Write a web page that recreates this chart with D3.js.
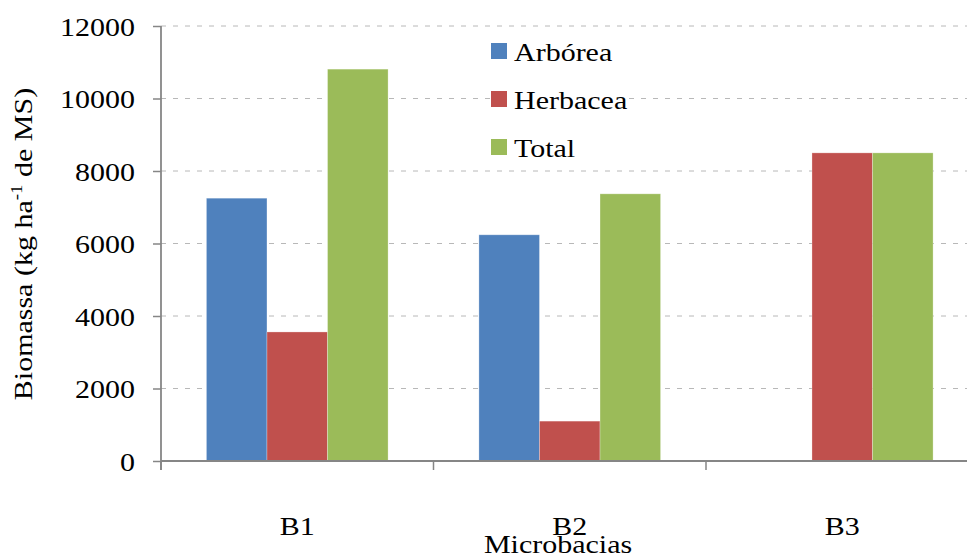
<!DOCTYPE html>
<html>
<head>
<meta charset="utf-8">
<script src="https://cdn.jsdelivr.net/npm/d3@7"></script>
<style>
  html, body { margin: 0; padding: 0; background: #fff; }
  svg { display: block; }
</style>
</head>
<body>
<svg id="chart" width="967" height="557"></svg>
<script>
// Biomass per micro-watershed
const categories = ["B1", "B2", "B3"];
const seriesNames = ["Arbórea", "Herbacea", "Total"];
const arborea  = [7250, 6240, 0];
const herbacea = [3560, 1100, 8500];
const total    = [10810, 7370, 8500];
const yTicks   = [0, 2000, 4000, 6000, 8000, 10000, 12000];
const colors   = ["#4F81BD", "#C0504D", "#9BBB59"];

const seriesValues = [arborea, herbacea, total];
const rows = categories.map((c, i) => ({
  cat: c,
  vals: seriesNames.map((s, j) => ({ key: s, value: seriesValues[j][i] }))
}));

const svg = d3.select("#chart");
const plotLeft = 161, plotRight = 978.5, plotTop = 26, plotBottom = 461;
const FONT = "'Liberation Serif', 'Times New Roman', Tinos, Times, serif";
const FS = 30, SQ = 0.87; // serif text, slightly condensed vertically

const x = d3.scaleBand().domain(categories).range([plotLeft, plotRight]).padding(0);
const xi = d3.scaleBand().domain(seriesNames).range([0, x.bandwidth()])
  .paddingInner(0).paddingOuter(0.75);
const y = d3.scaleLinear().domain([0, 12000]).range([plotBottom, plotTop]);
const color = d3.scaleOrdinal().domain(seriesNames).range(colors);

function label(g, tx, ty, str, anchor, rot) {
  const t = g.append("text")
    .attr("transform", `translate(${tx},${ty})` + (rot ? ` rotate(${rot})` : "") + ` scale(1,${SQ})`)
    .attr("text-anchor", anchor)
    .attr("font-family", FONT)
    .attr("font-size", FS)
    .attr("fill", "#000");
  if (str !== null) t.text(str);
  return t;
}

// dashed gridlines
svg.append("g").selectAll("line")
  .data(yTicks.filter(d => d > 0))
  .join("line")
  .attr("x1", plotLeft).attr("x2", 967)
  .attr("y1", d => y(d)).attr("y2", d => y(d))
  .attr("stroke", "#b8b8b8").attr("stroke-width", 1)
  .attr("stroke-dasharray", "5,7");

// bars
svg.append("g").selectAll("g")
  .data(rows)
  .join("g")
  .attr("transform", d => `translate(${x(d.cat)},0)`)
  .selectAll("rect")
  .data(d => d.vals.filter(v => v.value > 0))
  .join("rect")
  .attr("x", d => xi(d.key))
  .attr("width", xi.bandwidth())
  .attr("y", d => y(d.value))
  .attr("height", d => y(0) - y(d.value))
  .attr("fill", d => color(d.key))
  .attr("stroke", "rgba(255,255,255,0.35)")
  .attr("stroke-width", 0.8);

// y axis
const yAxis = d3.axisLeft(y).tickValues(yTicks).tickSize(8).tickFormat("");
const gy = svg.append("g").attr("transform", `translate(${plotLeft},0)`).call(yAxis);
gy.select(".domain").remove();
gy.selectAll(".tick line").attr("stroke", "#868686").attr("stroke-width", 1.5);
svg.append("line")
  .attr("x1", plotLeft).attr("x2", plotLeft).attr("y1", plotTop).attr("y2", plotBottom + 9)
  .attr("stroke", "#868686").attr("stroke-width", 1.8);

const gyl = svg.append("g");
yTicks.forEach(v => label(gyl, 135, y(v) + 9.5, String(v), "end"));

// x axis
svg.append("line")
  .attr("x1", plotLeft).attr("x2", plotRight).attr("y1", plotBottom).attr("y2", plotBottom)
  .attr("stroke", "#868686").attr("stroke-width", 2);
const xAxis = d3.axisBottom(x).tickSize(9).tickFormat("");
const gx = svg.append("g").attr("transform", `translate(0,${plotBottom})`).call(xAxis);
gx.select(".domain").remove();
gx.selectAll(".tick").attr("transform", null);
gx.selectAll(".tick line")
  .attr("x1", d => x(d)).attr("x2", d => x(d))
  .attr("stroke", "#868686").attr("stroke-width", 1.5);
gx.append("line")
  .attr("x1", plotRight).attr("x2", plotRight).attr("y1", 0).attr("y2", 9)
  .attr("stroke", "#868686").attr("stroke-width", 1.5);

const gxl = svg.append("g");
categories.forEach(c => label(gxl, x(c) + x.bandwidth() / 2, 535, c, "middle"));

// axis titles
label(svg, 558, 553, "Microbacias", "middle");
const yt = label(svg, 32, 244, null, "middle", -90);
yt.append("tspan").text("Biomassa (kg ha");
yt.append("tspan").attr("font-size", 19).attr("dy", -11).text("-1");
yt.append("tspan").attr("dy", 11).text(" de MS)");

// legend
const lg = svg.append("g");
lg.append("rect").attr("x", 505).attr("y", 34).attr("width", 123).attr("height", 130).attr("fill", "#fff");
seriesNames.forEach((s, i) => {
  const by = 61 + i * 48;
  lg.append("rect").attr("x", 491).attr("y", by - 18).attr("width", 16).attr("height", 16).attr("fill", color(s));
  label(lg, 514, by, s, "start");
});
</script>
</body>
</html>
